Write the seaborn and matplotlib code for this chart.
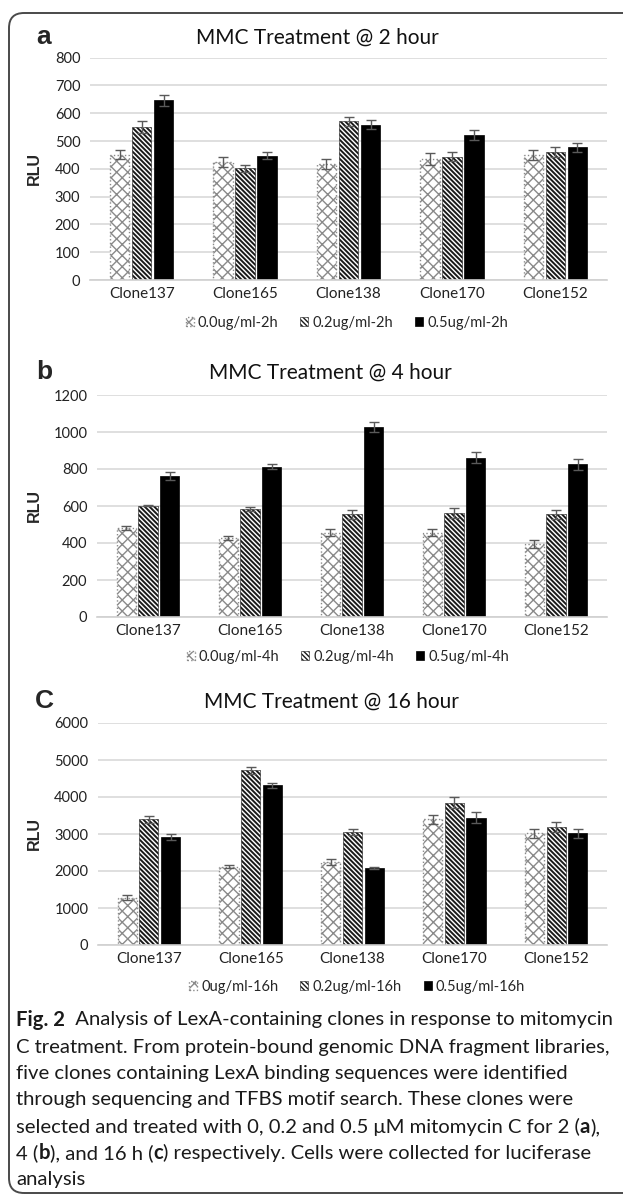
import pandas as pd
import seaborn as sns
import matplotlib.pyplot as plt
from matplotlib.patches import FancyBboxPatch

# ---- data ----
clones = ["Clone137", "Clone165", "Clone138", "Clone170", "Clone152"]

doses_2h = ["0.0ug/ml-2h", "0.2ug/ml-2h", "0.5ug/ml-2h"]
rlu_2h = [[451, 424, 418, 436, 450],
          [550, 402, 571, 444, 460],
          [646, 448, 559, 523, 478]]
err_2h = [[16, 18, 18, 22, 17],
          [21, 12, 17, 16, 18],
          [21, 11, 17, 18, 16]]

doses_4h = ["0.0ug/ml-4h", "0.2ug/ml-4h", "0.5ug/ml-4h"]
rlu_4h = [[482, 428, 455, 455, 393],
          [602, 582, 556, 563, 556],
          [763, 813, 1028, 861, 825]]
err_4h = [[12, 10, 18, 18, 22],
          [3, 10, 24, 27, 25],
          [20, 15, 26, 30, 30]]

doses_16h = ["0ug/ml-16h", "0.2ug/ml-16h", "0.5ug/ml-16h"]
rlu_16h = [[1278, 2115, 2241, 3393, 3015],
           [3393, 4725, 3051, 3843, 3195],
           [2925, 4311, 2088, 3438, 3015]]
err_16h = [[63, 45, 90, 117, 126],
           [90, 90, 80, 144, 140],
           [80, 55, 30, 144, 110]]

W, H = 623, 1196

sns.set_style("white")
plt.rcParams["font.family"] = ["Lato", "DejaVu Sans"]
plt.rcParams["hatch.linewidth"] = 1.0

fig = plt.figure(figsize=(W / 100, H / 100), dpi=100)


def fx(x):
    return x / W


def fy(y):
    return 1 - y / H


def long_df(doses, vals):
    rows = []
    for d, series in zip(doses, vals):
        for c, v in zip(clones, series):
            rows.append({"clone": c, "dose": d, "rlu": v})
    return pd.DataFrame(rows)


def panel(box, doses, vals, errs, ymax, step, letter, title, title_x, title_y,
          legend_x, legend_y):
    left, top, right, bottom = box
    ax = fig.add_axes([fx(left), fy(bottom), fx(right - left), (bottom - top) / H])
    df = long_df(doses, vals)
    sns.barplot(data=df, x="clone", y="rlu", hue="dose", order=clones,
                hue_order=doses, palette=["white", "white", "black"],
                errorbar=None, width=0.64, gap=0.12, legend=False, ax=ax)
    bars = list(ax.containers)

    # hatching like the Excel pattern fills
    for p in bars[0].patches:
        p.set_hatch("xxx")
        p.set_edgecolor("#8a8a8a")
        p.set_linestyle(":")
        p.set_linewidth(1.0)
    for p in bars[1].patches:
        p.set_hatch("\\" * 7)
        p.set_edgecolor("#1a1a1a")
        p.set_linewidth(0.4)
        if hasattr(p, "set_hatch_linewidth"):
            p.set_hatch_linewidth(1.4)
    for p in bars[2].patches:
        p.set_edgecolor("black")
        p.set_linewidth(0.5)

    for cont, m, e in zip(bars, vals, errs):
        xs = [p.get_x() + p.get_width() / 2 for p in cont.patches]
        ax.errorbar(xs, m, yerr=e, fmt="none", ecolor="#5a5a5a",
                    elinewidth=1.0, capsize=3.5, capthick=1.0, zorder=5)

    ax.set_ylim(0, ymax)
    ax.set_yticks(range(0, ymax + 1, step))
    ax.set_xlim(-0.5, 4.5)
    ax.yaxis.grid(True, color="#d9d9d9", lw=1.2)
    ax.set_axisbelow(True)
    for s in ["left", "right", "top"]:
        ax.spines[s].set_visible(False)
    ax.spines["bottom"].set_color("#d0d0d0")
    ax.spines["bottom"].set_linewidth(1.2)
    ax.tick_params(axis="y", length=0, pad=7, labelsize=10.5, labelcolor="#222222")
    ax.tick_params(axis="x", length=0, pad=5, labelsize=11, labelcolor="#222222")
    ax.set_xlabel("")
    ax.set_ylabel("RLU", fontsize=11.5, fontweight="bold", family=["Liberation Sans"])
    ax.yaxis.set_label_coords((42 - left) / (right - left), 0.5)

    fig.text(fx(title_x), fy(title_y), title, fontsize=15, ha="center",
             va="center", color="#111111")
    fig.text(fx(44), fy(title_y - 1), letter, fontsize=19, fontweight="bold",
             ha="center", va="center", family=["Liberation Sans"])

    handles = [cont.patches[0] for cont in bars]
    fig.legend(handles, doses, loc="center", ncol=3, frameon=False,
               bbox_to_anchor=(fx(legend_x), fy(legend_y)), fontsize=10.5,
               handlelength=0.55, handleheight=0.55, handletextpad=0.3,
               columnspacing=1.5, borderpad=0)
    return ax


panel((90, 57.7, 607, 280), doses_2h, rlu_2h, err_2h, 800, 100, "a",
      "MMC Treatment @ 2 hour", 317, 38, 347, 323)
panel((97, 395, 607, 617), doses_4h, rlu_4h, err_4h, 1200, 200, "b",
      "MMC Treatment @ 4 hour", 330, 373, 348, 657)
panel((98, 723, 607, 945), doses_16h, rlu_16h, err_16h, 6000, 1000, "C",
      "MMC Treatment @ 16 hour", 331, 702, 357, 987)

# outer rounded frame (right edge runs past the image)
frame = FancyBboxPatch((0.09, 0.03), 7.0, 11.80,
                       boxstyle="round,pad=0,rounding_size=0.15",
                       transform=fig.dpi_scale_trans, fill=False,
                       edgecolor="#4a4a4a", linewidth=1.4)
fig.patches.append(frame)

# caption with bold pieces
renderer = fig.canvas.get_renderer()
cap_size = 14.6


def seg_width(s, weight):
    t1 = fig.text(0, 0, "|" + s + "|", fontsize=cap_size, fontweight=weight)
    t2 = fig.text(0, 0, "||", fontsize=cap_size, fontweight=weight)
    w = t1.get_window_extent(renderer).width - t2.get_window_extent(renderer).width
    t1.remove()
    t2.remove()
    return w


caption = [
    [("Fig. 2", "bold"), ("  Analysis of LexA-containing clones in response to mitomycin", "normal")],
    [("C treatment. From protein-bound genomic DNA fragment libraries,", "normal")],
    [("five clones containing LexA binding sequences were identified", "normal")],
    [("through sequencing and TFBS motif search. These clones were", "normal")],
    [("selected and treated with 0, 0.2 and 0.5 \u03bcM mitomycin C for 2 (", "normal"),
     ("a", "bold"), ("),", "normal")],
    [("4 (", "normal"), ("b", "bold"), ("), and 16 h (", "normal"), ("c", "bold"),
     (") respectively. Cells were collected for luciferase", "normal")],
    [("analysis", "normal")],
]
line_y = [1020, 1047, 1073, 1100, 1127, 1153, 1180]
for segs, y in zip(caption, line_y):
    x = 16
    for s, wt in segs:
        fig.text(fx(x), fy(y), s, fontsize=cap_size, fontweight=wt,
                 ha="left", va="center", color="#1a1a1a")
        x += seg_width(s, wt)

fig.savefig("out.png", dpi=100)
